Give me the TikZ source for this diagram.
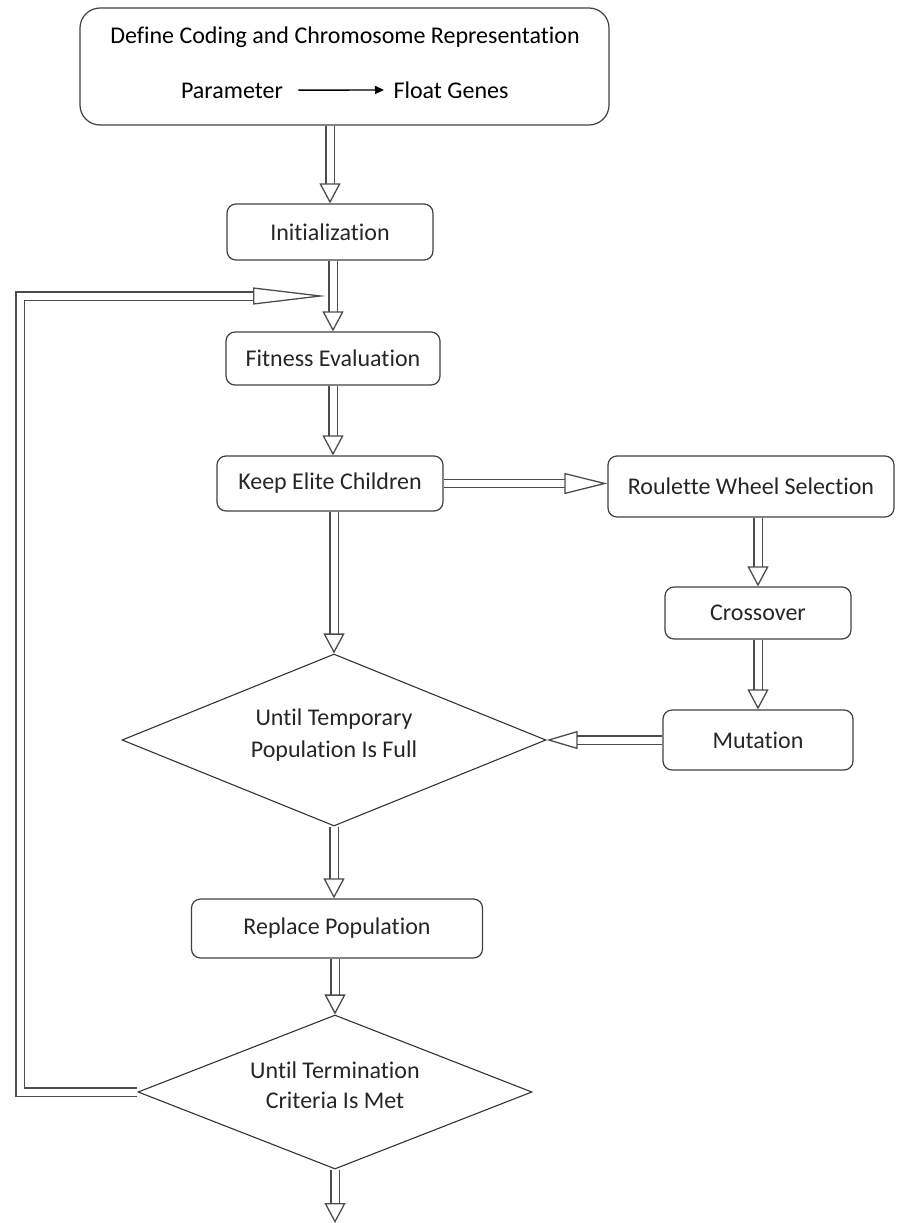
\documentclass[tikz,border=0pt]{standalone}
\usepackage{fontspec}
\setmainfont{Carlito}[Ligatures=NoCommon]
\usetikzlibrary{shapes.geometric, arrows.meta, positioning}
\tikzset{stepbox/.style={draw=black!75,line width=1.2pt,rounded corners=9pt,inner sep=0pt,text=black!85},
         decision/.style={diamond,draw=black!80,line width=1.1pt,inner sep=0pt,align=center,text=black!85},
         hollow/.style={draw=black!70,line width=1.3pt,double=white,double distance=7pt,
                        -{Triangle[open,length=20pt,width=21pt,line width=1.3pt]}},
         hollowmid/.style={hollow,-{Triangle[open,length=43pt,width=21pt,line width=1.3pt]}},
         hollowshort/.style={hollow,-{Triangle[open,length=31pt,width=18pt,line width=1.3pt]}},
         hollowlong/.style={hollow,-{Triangle[open,length=73pt,width=17pt,line width=1.3pt]}},
        }

\begin{document}
\begin{tikzpicture}[x=1pt,y=-1pt,font=\fontsize{24}{32}\selectfont]
        \useasboundingbox (0,0) rectangle (897,1223);

        \node[stepbox,rounded corners=20pt,minimum width=529pt,minimum height=117pt](define)at(344.5,66.5){};
        \node(title)at(345,37){Define Coding and Chromosome Representation};
        \node[anchor=base](param)at(232,98){Parameter};
        \node[anchor=base](genes)at(451,98){Float Genes};
        \draw[line width=1.4pt,shorten <=12pt,shorten >=6pt,-{Triangle[length=9pt,width=8pt]}](param)--(genes);

        \node[stepbox,minimum width=206pt,minimum height=56pt](init)at(330,232){Initialization};
        \node[stepbox,minimum width=214pt,minimum height=53pt](fit)at(333,358.5){Fitness Evaluation};
        \node[stepbox,minimum width=226pt,minimum height=55pt](keep)at(330,483.5){Keep Elite Children};
        \node[stepbox,minimum width=286pt,minimum height=61pt](roul)at(751,486.5){Roulette Wheel Selection};
        \node[stepbox,minimum width=186pt,minimum height=52pt](cross)at(758,613){Crossover};
        \node[stepbox,minimum width=190pt,minimum height=60pt](mut)at(758,740){Mutation};

        \node[decision,minimum width=424pt,minimum height=172pt,aspect=2.47](full)at(334,740)
            {Until Temporary\\Population Is Full\\[-18pt]};
        \node[stepbox,minimum width=291pt,minimum height=59pt](repl)at(337,928.5){Replace Population};
        \node[decision,minimum width=394pt,minimum height=154pt,aspect=2.56](met)at(335,1092)
            {Until Termination\\[-2pt]Criteria Is Met\\[-18pt]};

        \coordinate(corner)at(20,296);
        \coordinate(join)at(326,296);
        \coordinate(out)at(335,1223);

        \draw[hollow](init.north |- define.south)--(init.north);
        \draw[hollow](fit.north |- init.south)--(fit.north);
        \draw[hollow](fit.south)--(keep.north -| fit.south);
        \draw[hollowmid](keep.east)--(keep.east -| roul.west);
        \draw[hollow](cross.north |- roul.south)--(cross.north);
        \draw[hollow](cross.south)--(mut.north);
        \draw[hollowshort](mut.west)--(full.east);
        \draw[hollow](full.north |- keep.south)--(full.north);
        \draw[hollow](full.south)--(repl.north -| full.south);
        \draw[hollow](met.north |- repl.south)--(met.north);
        \draw[hollow](met.south)--(out);
        \draw[hollowlong](met.west)-|(corner)--(join);
\end{tikzpicture}
\end{document}
